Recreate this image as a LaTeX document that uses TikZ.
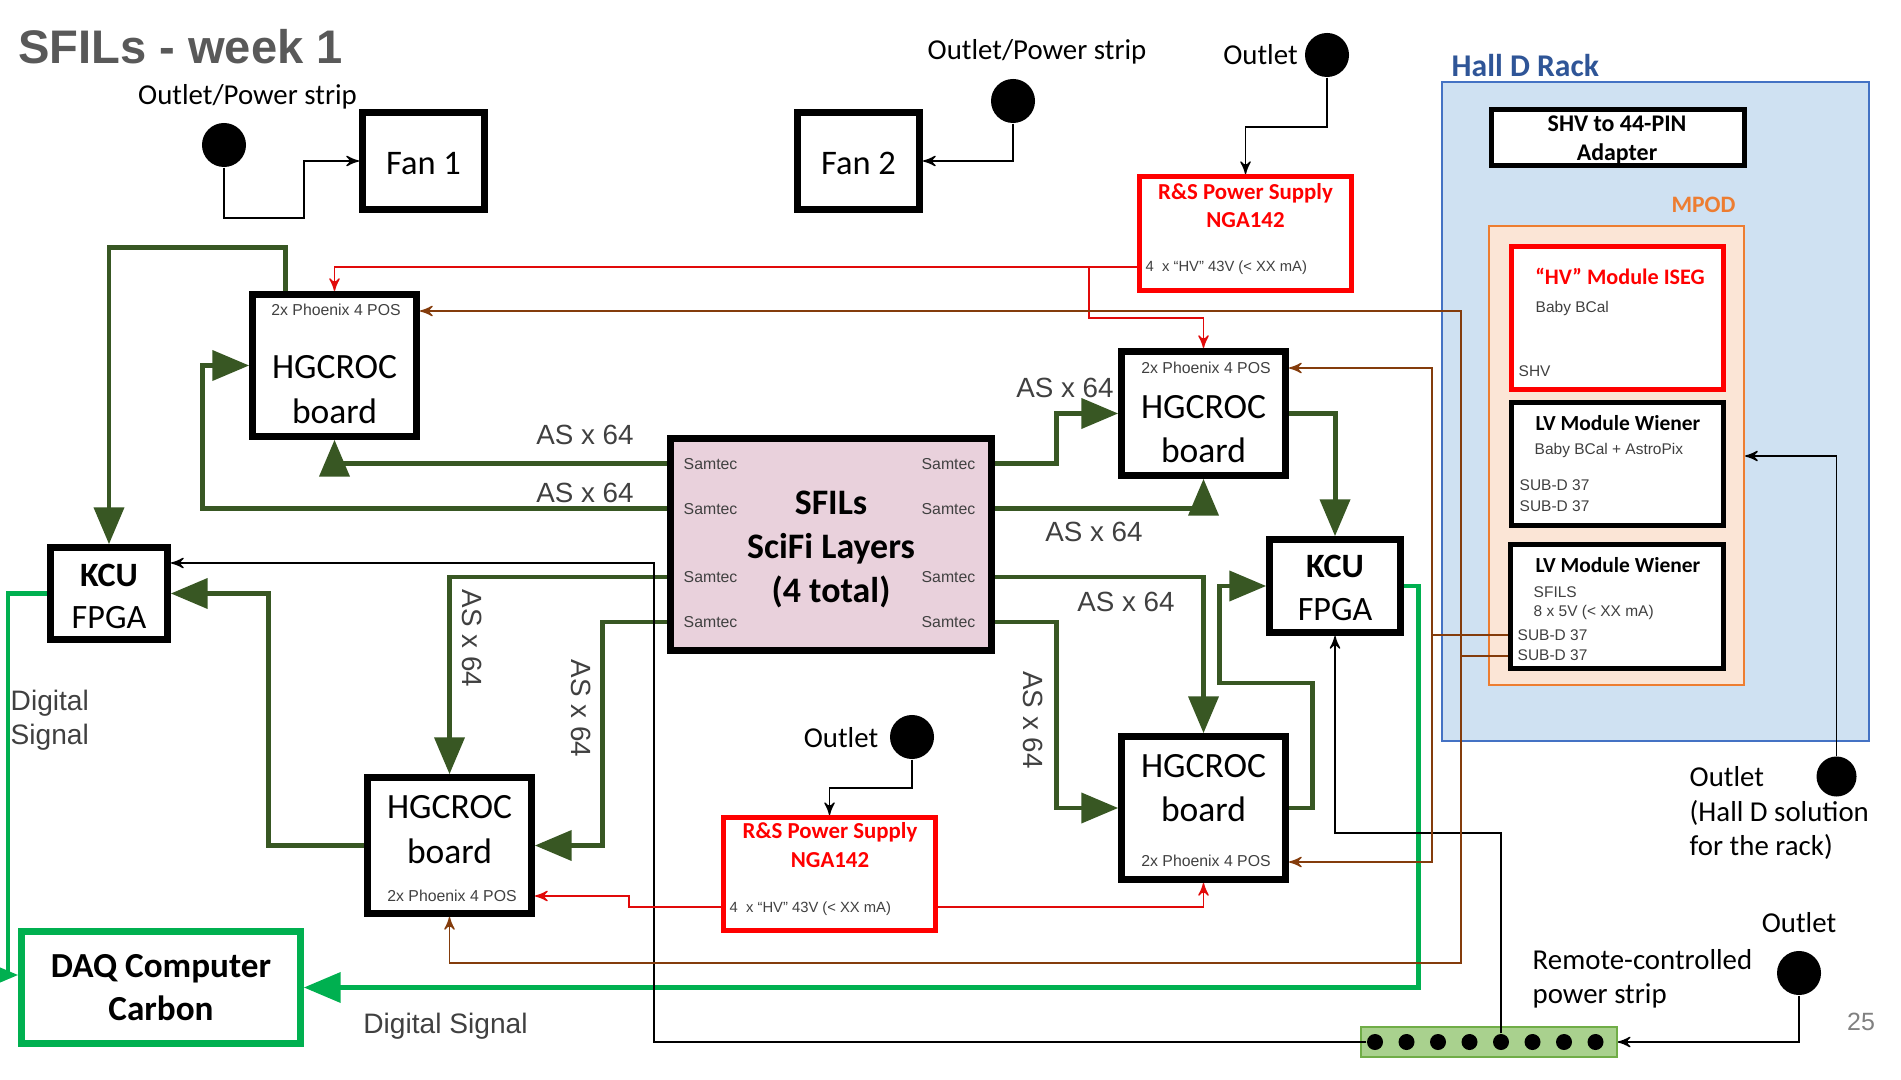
\documentclass[tikz,border=0pt]{standalone}
\usepackage{fontspec}
\setmainfont{Carlito}
\newfontfamily\arialfont{Liberation Sans}
\usepackage{tikz}
\usetikzlibrary{arrows}

\definecolor{asgreen}{RGB}{56,87,35}
\definecolor{digreen}{RGB}{0,176,80}
\definecolor{psred}{RGB}{255,0,0}
\definecolor{hvred}{RGB}{225,10,10}
\definecolor{lvbrown}{RGB}{132,60,12}
\definecolor{sfilpink}{RGB}{233,209,220}
\definecolor{rackblue}{RGB}{207,225,242}
\definecolor{rackedge}{RGB}{68,114,196}
\definecolor{halltext}{RGB}{47,85,151}
\definecolor{mpodfill}{RGB}{251,229,214}
\definecolor{mpodedge}{RGB}{237,125,49}
\definecolor{titlegray}{RGB}{89,89,89}
\definecolor{txtgray}{RGB}{64,64,64}
\definecolor{stripfill}{RGB}{169,209,142}
\definecolor{stripedge}{RGB}{112,173,71}

\newcommand{\fsz}[2]{\fontsize{#1}{#2}\selectfont}

\tikzset{
  blkbox/.style={draw=black, line width=2pt, fill=white, inner sep=0pt},
  thinbox/.style={draw=black, line width=1.4pt, fill=white, inner sep=0pt},
  redbox/.style={draw=psred, line width=1.4pt, fill=white, inner sep=0pt},
  outdot/.style={circle, fill=black, inner sep=0pt, minimum size=0.44cm},
  gline/.style={draw=asgreen, line width=1.42pt, -triangle 45},
  dline/.style={draw=digreen, line width=1.42pt, -triangle 45},
  bline/.style={draw=black, line width=0.4pt, ->, >=stealth'},
  rline/.style={draw=hvred, line width=0.4pt, ->, >=stealth'},
  brline/.style={draw=lvbrown, line width=0.4pt, ->, >=stealth'},
  lbl/.style={font=\fsz{8.2}{9.8}, inner sep=0pt},
  hgtxt/.style={font=\fsz{10.1}{12.5}, inner sep=0pt},
  kcutxt/.style={font=\fsz{9.7}{12}, inner sep=0pt},
  smalltxt/.style={font=\arialfont\fsz{4.4}{5.3}, text=txtgray, inner sep=0pt},
  astxt/.style={font=\arialfont\fsz{7.9}{9.5}, text=txtgray, inner sep=0pt},
  pstxt/.style={font=\bfseries\fsz{6.5}{7.8}, text=psred, inner sep=0pt},
  modtxt/.style={font=\bfseries\fsz{6.1}{7.3}, inner sep=0pt}
}

\begin{document}
\begin{tikzpicture} [x=0.01cm, y=-0.01cm]
\useasboundingbox (0,0) rectangle (1901,1080);

\node[font=\arialfont\bfseries\fsz{13.4}{16}, text=titlegray, inner sep=0pt, anchor=base] (title) at (180.5,64) {SFILs - week 1};

% Hall D rack
\node[draw=rackedge, fill=rackblue, line width=0.6pt, inner sep=0pt, minimum width=4.27cm, minimum height=6.59cm] (rack) at (1655.5,411.5) {};
\node[font=\bfseries\fsz{9}{11}, text=halltext, inner sep=0pt, anchor=base west] (racklbl) at (1451,77) {Hall D Rack};
\node[thinbox, minimum width=2.53cm, minimum height=0.56cm] (shv) at (1618,137.5) {};
\node[modtxt, font=\bfseries\fsz{6.8}{8.05}, align=center] (shvlbl) at (1617,140) {SHV to 44-PIN\\Adapter};
\node[font=\bfseries\fsz{6.7}{8}, text=mpodedge, inner sep=0pt, anchor=base] (mpodlbl) at (1703.5,213) {MPOD};
\node[draw=mpodedge, fill=mpodfill, line width=0.6pt, inner sep=0pt, minimum width=2.55cm, minimum height=4.59cm] (mpod) at (1616.5,455.5) {};

\node[redbox, minimum width=2.12cm, minimum height=1.43cm] (hv) at (1617.5,318) {};
\node[pstxt, font=\bfseries\fsz{6.3}{7.5}, anchor=base] (hvlbl) at (1620,284.5) {“HV” Module ISEG};
\node[smalltxt, anchor=base west] (hvbc) at (1535,313) {Baby BCal};
\node[smalltxt, anchor=base west] (hvshv) at (1518,377) {SHV};

\node[thinbox, minimum width=2.12cm, minimum height=1.23cm] (lv1) at (1617.5,464) {};
\node[modtxt, anchor=base] (lv1lbl) at (1618,431) {LV Module Wiener};
\node[smalltxt, anchor=base west] (lv1bc) at (1534,455) {Baby BCal + AstroPix};
\node[smalltxt, anchor=base west] (lv1sa) at (1519,491) {SUB-D 37};
\node[smalltxt, anchor=base west] (lv1sb) at (1519,512) {SUB-D 37};

\node[thinbox, minimum width=2.13cm, minimum height=1.24cm] (lv2) at (1617,606.5) {};
\node[modtxt, anchor=base] (lv2lbl) at (1618,572.5) {LV Module Wiener};
\node[smalltxt, anchor=base west] (lv2sf) at (1533,598) {SFILS};
\node[smalltxt, anchor=base west] (lv2v) at (1533,617) {8 x 5V (< XX mA)};
\node[smalltxt, anchor=base west] (lv2sa) at (1517,640) {SUB-D 37};
\node[smalltxt, anchor=base west] (lv2sb) at (1517,660) {SUB-D 37};

% fans and outlets
\node[blkbox, minimum width=1.22cm, minimum height=0.97cm] (fan1) at (423.5,161) {};
\node[inner sep=0pt, font=\fsz{9.8}{12}, anchor=base] (fan1t) at (423.5,175) {Fan 1};
\node[blkbox, minimum width=1.22cm, minimum height=0.97cm] (fan2) at (858.5,161) {};
\node[inner sep=0pt, font=\fsz{9.8}{12}, anchor=base] (fan2t) at (858.5,175) {Fan 2};
\node[outdot] (o1) at (224,145) {};
\node[outdot] (o2) at (1013,101) {};
\node[outdot] (o3) at (1327,55) {};
\node[outdot] (o4) at (912,737) {};
\node[outdot, minimum size=0.40cm] (o5) at (1836.5,776.5) {};
\node[outdot] (o6) at (1799,973) {};
\node[lbl, anchor=base] (ol1) at (247.5,104.5) {Outlet/Power strip};
\node[lbl, anchor=base] (ol2) at (1037,60) {Outlet/Power strip};
\node[lbl, anchor=base] (ol3) at (1260.5,65) {Outlet};
\node[lbl, anchor=base] (ol4) at (841,747) {Outlet};
\node[lbl, align=left, anchor=west] (ol5) at (1689,813) {Outlet\\(Hall D solution\\for the rack)};
\node[lbl, anchor=base] (ol6) at (1799,932) {Outlet};
\node[lbl, font=\fsz{8.2}{9.8}, align=left, anchor=west] (striplbl) at (1532,979) {Remote-controlled\\power strip};
\node[font=\arialfont\fsz{7.1}{8.5}, text=gray, inner sep=0pt, anchor=base] (pgnum) at (1861,1030) {25};

% power supplies
\node[redbox, minimum width=2.12cm, minimum height=1.14cm] (ps1) at (1245.5,233.5) {};
\node[pstxt, anchor=base] (ps1a) at (1245.5,199.5) {R\&S Power Supply};
\node[pstxt, anchor=base] (ps1b) at (1245.5,228) {NGA142};
\node[smalltxt, font=\arialfont\fsz{4.2}{5}, anchor=base west] (ps1c) at (1145,271.5) {4\ \ x “HV” 43V (< XX mA)};
\node[redbox, minimum width=2.12cm, minimum height=1.13cm] (ps2) at (829.5,874) {};
\node[pstxt, anchor=base] (ps2a) at (830,838) {R\&S Power Supply};
\node[pstxt, anchor=base] (ps2b) at (830,867) {NGA142};
\node[smalltxt, font=\arialfont\fsz{4.2}{5}, anchor=base west] (ps2c) at (729,912.5) {4\ \ x “HV” 43V (< XX mA)};

% power strip
\node[draw=stripedge, fill=stripfill, line width=0.4pt, inner sep=0pt, minimum width=2.56cm, minimum height=0.30cm] (strip) at (1489,1042) {};
\foreach \i in {1,...,8}
  \node[outdot, minimum size=0.16cm] (pd\i) at (1343.5+31.5*\i,1042) {};

% SFILs and readout
\node[blkbox, fill=sfilpink, minimum width=3.21cm, minimum height=2.12cm] (sfil) at (831,544.5) {};
\node[inner sep=0pt, align=center, font=\bfseries\fsz{10.2}{12.4}] (sfilt) at (831,549.5) {SFILs\\SciFi Layers\\(4 total)};
\foreach \i/\y in {1/464,2/509,3/577,4/622} {
  \node[font=\arialfont\fsz{4.5}{5.4}, text=txtgray, inner sep=0pt, anchor=west] (saml\i) at (683,\y) {Samtec};
  \node[font=\arialfont\fsz{4.5}{5.4}, text=txtgray, inner sep=0pt, anchor=east] (samr\i) at (976,\y) {Samtec};
}
\foreach \nm/\cx/\cy/\bh/\tb/\pb/\px in {hgtl/334.5/365.5/1.42/379/316/336,
    hgtr/1203.5/413.5/1.24/418.5/374/1206,
    hgbl/449.5/845.5/1.36/818.5/901.5/452,
    hgbr/1203.5/808/1.43/777/866.5/1206} {
  \node[blkbox, minimum width=1.64cm, minimum height=\bh cm] (\nm) at (\cx,\cy) {};
  \node[hgtxt, anchor=base] (\nm-a) at (\cx,\tb) {HGCROC};
  \node[hgtxt, anchor=base] (\nm-b) at (\cx,\tb+44.5) {board};
  \node[font=\arialfont\fsz{4.5}{5.4}, text=txtgray, inner sep=0pt, anchor=base] (\nm-p) at (\px,\pb) {2x Phoenix 4 POS};
}
\node[blkbox, minimum width=1.17cm, minimum height=0.92cm] (kcul) at (109,593.5) {};
\node[kcutxt, font=\bfseries\fsz{9.7}{12}, anchor=base] (kcul-a) at (109,586.5) {KCU};
\node[kcutxt, anchor=base] (kcul-b) at (109,629) {FPGA};
\node[blkbox, minimum width=1.31cm, minimum height=0.93cm] (kcur) at (1335,586) {};
\node[kcutxt, font=\bfseries\fsz{9.7}{12}, anchor=base] (kcur-a) at (1335,577.5) {KCU};
\node[kcutxt, anchor=base] (kcur-b) at (1335,621) {FPGA};
\node[blkbox, draw=digreen, minimum width=2.79cm, minimum height=1.12cm, align=center, font=\bfseries\fsz{10}{12.4}] (daq) at (161,987.5) {DAQ Computer\\Carbon};

\node[astxt, anchor=base] (asl1) at (585,445) {AS x 64};
\node[astxt, anchor=base] (asl2) at (585,502.5) {AS x 64};
\node[astxt, anchor=base] (asr1) at (1065,398) {AS x 64};
\node[astxt, anchor=base] (asr2) at (1094,541.5) {AS x 64};
\node[astxt, anchor=base] (asr3) at (1126,611.5) {AS x 64};
\node[astxt, rotate=-90] (asv1) at (472,638.5) {AS x 64};
\node[astxt, rotate=-90] (asv2) at (581.5,708.5) {AS x 64};
\node[astxt, rotate=-90] (asv3) at (1033,720) {AS x 64};
\node[astxt, font=\arialfont\fsz{8}{9.7}, align=left, anchor=west] (dsig1) at (10,720) {Digital\\Signal};
\node[astxt, font=\arialfont\fsz{8}{9.7}, anchor=base] (dsig2) at (445.5,1033) {Digital Signal};

% analog signals
\draw[gline] (sfil.west |- saml1) -| (hgtl.south);
\draw[gline] (sfil.west |- saml2) -| (202,365.5) -- (hgtl.west);
\draw[gline] (sfil.west |- saml3) -| (hgbl.north);
\draw[gline] (sfil.west |- saml4) -| (602,845.5) -- (hgbl.east);
\draw[gline] (sfil.east |- samr1) -| (1056,413.5) -- (hgtr.west);
\draw[gline] (sfil.east |- samr2) -| (hgtr.south);
\draw[gline] (sfil.east |- samr3) -| (hgbr.north);
\draw[gline] (sfil.east |- samr4) -| (1056,808) -- (hgbr.west);
\draw[gline] (hgtl.north -| 285,0) -- (285,248) -| (kcul.north);
\draw[gline] (hgbl.west) -| (268,593.5) -- (kcul.east);
\draw[gline] (hgtr.east) -| (kcur.north);
\draw[gline] (hgbr.east) -| (1312,683) -| (1219,586) -- (kcur.west);

% digital signals
\draw[dline] (kcul.west) -| (8,975) -- (daq.west |- 0,975);
\draw[dline] (kcur.east) -| (1418,987.5) -- (daq.east);

% mains
\draw[bline] (o1.south) |- (304,218) |- (fan1.west);
\draw[bline] (o2.south) |- (fan2.east);
\draw[bline] (o3.south) -- (o3.south |- 0,127) -| (ps1.north);
\draw[bline] (o4.south) -- (o4.south |- 0,788) -| (ps2.north);
\draw[bline] (o5.north) |- (mpod.east |- 0,456);
\draw[bline] (o6.south) |- (strip.east);
\draw[bline] (pd1) -| (654,563) -- (kcul.east |- 0,563);
\draw[bline] (pd5) -- (pd5 |- 0,833) -| (kcur.south);

% bias
\coordinate (rj1) at (1089,267);
\draw[rline] (ps1.west |- rj1) -| (hgtl.north);
\draw[rline] (rj1) |- (hgtr.north |- 0,318) -- (hgtr.north);
\draw[rline] (ps2.west |- 0,907) -| (629,896) -- (hgbl.east |- 0,896);
\draw[rline] (ps2.east |- 0,907) -| (hgbr.south);

% low voltage
\coordinate (bj1) at (1432,635);
\coordinate (bj2) at (1461,656);
\draw[brline] (lv2.west |- bj1) -- (bj1) |- (hgtr.east |- 0,368);
\draw[brline] (bj1) |- (hgbr.east |- 0,862);
\draw[brline] (lv2.west |- bj2) -- (bj2) |- (hgtl.east |- 0,311);
\draw[brline] (bj2) |- (hgbl.south |- 0,963) -- (hgbl.south);
\end{tikzpicture}
\end{document}
